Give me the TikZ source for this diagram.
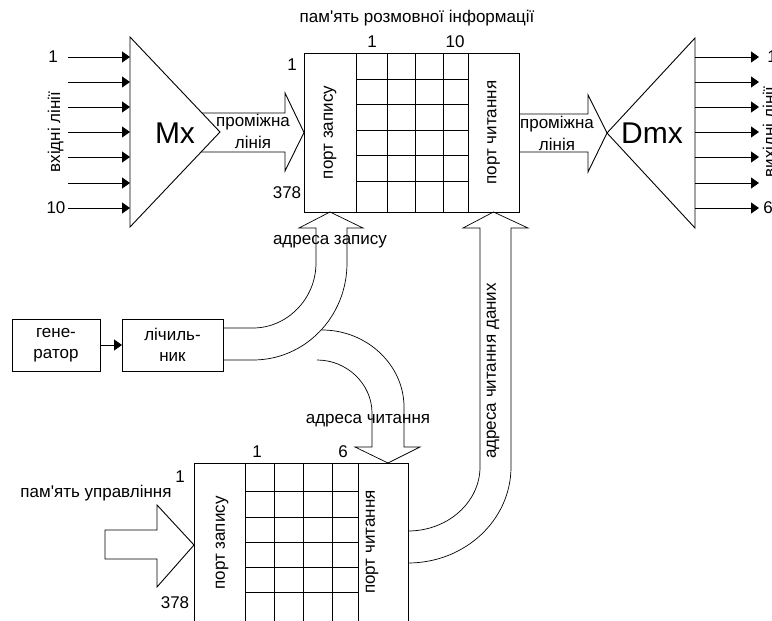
\documentclass[tikz,border=0pt]{standalone}
\usepackage{fontspec}
\setmainfont{Liberation Sans}
\usetikzlibrary{arrows.meta}
\begin{document}
\begin{tikzpicture}[x=1pt,y=-1pt,line width=0.9pt,
  lbl/.style={font=\fontsize{17}{20}\selectfont,inner sep=0pt},
  big/.style={font=\fontsize{30}{32}\selectfont,inner sep=0pt},
  sig/.style={-{Triangle[length=8pt,width=11pt]}},
  col/.style={draw,inner sep=0pt,outer sep=0pt,anchor=north west},
  blk/.style={draw,inner sep=0pt,outer sep=0pt,align=center,
    font=\fontsize{17}{21}\selectfont,minimum height=52pt},
  curve/.style={line width=0.7pt}]
\useasboundingbox (0,0) rectangle (772,621);

% ---------- multiplexer ----------
\coordinate (mxT) at (130,37);
\coordinate (mxB) at (130,227);
\coordinate (mxA) at (220,132);
\draw (mxT) -- (mxA) -- (mxB) -- cycle;
\node[big] (mx) at (175,133) {Mx};
\foreach \y [count=\i] in {57,82,107,132,157,183,208} {
  \coordinate (in\i) at (68,\y);
  \coordinate (mi\i) at (130,\y);
  \draw[sig] (in\i) -- (mi\i);
}
\node[lbl] (inA) at (53,57) {1};
\node[lbl] (inB) at (56,208) {10};
\node[lbl,rotate=90,anchor=base] (inL) at (60,132) {вхідні лінії};

% ---------- speech memory ----------
\node[col,minimum width=52pt,minimum height=159pt] (wp) at (304,53) {};
\node[col,minimum width=112pt,minimum height=159pt] (gr) at (356,53) {};
\node[col,minimum width=51pt,minimum height=159pt] (rp) at (468,53) {};
\foreach \x in {387,415,443} \draw (\x,53) -- (\x,212);
\foreach \y in {79,104,130,155,181} \draw (356,\y) -- (468,\y);
\node[lbl,rotate=90] at (wp.center) {порт запису};
\node[lbl,rotate=90] at (rp.center) {порт читання};
\node[lbl] (t1) at (417,18) {пам\textquotesingle ять розмовної інформації};
\node[lbl] (c1) at (372,42) {1};
\node[lbl] (c10) at (455,42) {10};
\node[lbl] (r1) at (292,65) {1};
\node[lbl] (r378) at (287,193) {378};

% wide arrow Mx -> memory
\draw (202,113) -- (285,113) -- (285,93) -- (wp.west) -- (285,171)
      -- (285,152) -- (201,152);
\node[lbl] (p1) at (253,122) {проміжна};
\node[lbl] (p2) at (253,142) {лінія};

% ---------- demultiplexer ----------
\coordinate (dxA) at (607,133);
\coordinate (dxT) at (695,38);
\coordinate (dxB) at (695,228);
\draw (dxA) -- (dxT) -- (dxB) -- cycle;
\node[big] (dmx) at (652,133) {Dmx};
\foreach \y [count=\i] in {57,82,107,132,157,183,208} {
  \coordinate (do\i) at (695,\y);
  \coordinate (oe\i) at (759,\y);
  \draw[sig] (do\i) -- (oe\i);
}
\node[lbl] (outA) at (772,57) {1};
\node[lbl] (outB) at (768,208) {6};
\node[lbl,rotate=90,anchor=base] (outL) at (775,132) {вихідні лінії};

% wide arrow memory -> Dmx
\draw (519,114) -- (588,114) -- (588,95) -- (dxA) -- (588,172)
      -- (588,152) -- (519,152);
\node[lbl] (p3) at (557,124) {проміжна};
\node[lbl] (p4) at (557,144) {лінія};

% ---------- generator and counter ----------
\node[blk,minimum width=88pt] (gen) at (56,345) {гене-\\ратор};
\node[blk,minimum width=101pt] (cnt) at (172.5,345) {лічиль-\\ник};
\draw[sig] (gen) -- (cnt);

% write address arrow (counter -> speech memory)
\draw[curve] (223,328) -- (253,328) .. controls (287,328) and (316,299) .. (316,263)
  -- (316,228) -- (299,228) -- (wp.south) -- (363,228) -- (347,228)
  -- (347,263) .. controls (347,317) and (305,360) .. (253,360) -- (223,360);
\node[lbl] (aw) at (330,242) {адреса запису};

% read address branch (counter -> control memory)
\coordinate (ctip) at (388,463);
\draw[curve] (322,330) .. controls (367,330) and (404,365) .. (404,407)
  -- (404,447) -- (420,447) -- (ctip) -- (355,447) -- (372,447)
  -- (372,413) .. controls (372,384) and (347,360) .. (317,360);
\node[lbl] (ar) at (368,421) {адреса читання};

% ---------- control memory ----------
\node[col,minimum width=51pt,minimum height=200pt] (wp2) at (194,463) {};
\node[col,minimum width=113pt,minimum height=200pt] (gr2) at (245,463) {};
\node[col,minimum width=50pt,minimum height=200pt] (rp2) at (358,463) {};
\foreach \x in {274,303,332} \draw (\x,463) -- (\x,663);
\foreach \y in {491,517,542,567,592} \draw (245,\y) -- (358,\y);
\node[lbl,rotate=90] at (222,543) {порт запису};
\node[lbl,rotate=90] at (372,542) {порт читання};
\node[lbl] (d1) at (257,452) {1};
\node[lbl] (d6) at (343,452) {6};
\node[lbl] (e1) at (180,477) {1};
\node[lbl] (e378) at (175,603) {378};

% control data input arrow
\coordinate (ktip) at (194,545);
\draw (105,530) -- (157,530) -- (157,505) -- (ktip) -- (157,587)
  -- (157,559) -- (105,559) -- cycle;
\node[lbl] (km) at (96,493) {пам\textquotesingle ять управління};

% data read address arrow (control memory -> speech memory)
\draw[curve] (408,531) .. controls (448,531) and (480,502) .. (480,467)
  -- (480,228) -- (463,228) -- (rp.south) -- (528,228) -- (511,228)
  -- (511,467) .. controls (511,520) and (465,563) .. (408,563);
\node[lbl,rotate=90] (ad) at (493,371) {адреса читання даних};
\end{tikzpicture}
\end{document}
